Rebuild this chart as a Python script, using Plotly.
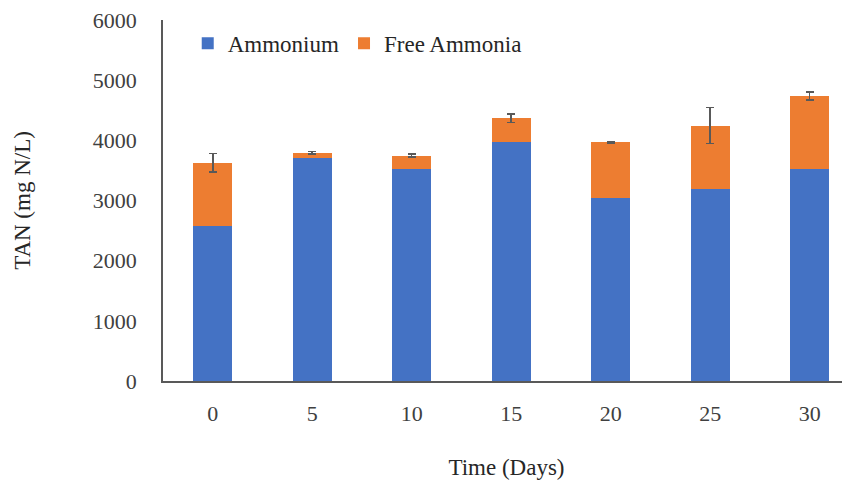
import plotly.graph_objects as go

days = ["0", "5", "10", "15", "20", "25", "30"]
ammonium = [2580, 3700, 3520, 3970, 3035, 3185, 3520]
free_ammonia = [1050, 95, 225, 395, 930, 1060, 1215]
total_error = [155, 20, 25, 70, 12, 300, 65]
y_ticks = [0, 1000, 2000, 3000, 4000, 5000, 6000]

FONT = "Liberation Serif"

fig = go.Figure()
fig.add_trace(go.Bar(x=days, y=ammonium, name="Ammonium", marker_color="#4472C4",
                     marker_line_width=0, width=0.39))
fig.add_trace(go.Bar(x=days, y=free_ammonia, name="Free Ammonia", marker_color="#ED7D31",
                     marker_line_width=0, width=0.39,
                     error_y=dict(type="data", array=total_error, visible=True,
                                  color="#595959", thickness=1.5, width=4)))

fig.update_layout(
    width=850, height=485,
    barmode="stack",
    plot_bgcolor="white", paper_bgcolor="white",
    margin=dict(l=155, r=8, t=12, b=112, autoexpand=False),
    font=dict(family=FONT, size=22, color="#404040"),
    showlegend=True,
    legend=dict(orientation="h", x=0.036, y=0.995, xanchor="left", yanchor="top",
                font=dict(family=FONT, size=23, color="#262626"),
                bgcolor="rgba(0,0,0,0)", itemwidth=30, traceorder="normal"),
    xaxis=dict(range=[-0.5, 6.405], showline=True, linecolor="#595959", linewidth=1.5,
               ticks="", showgrid=False, ticklabelstandoff=12, automargin=False,
               tickfont=dict(family=FONT, size=22, color="#404040"),
               title=dict(text="Time (Days)", standoff=34,
                          font=dict(family=FONT, size=23, color="#262626"))),
    yaxis=dict(range=[0, 6000], tickvals=y_ticks, showline=True, linecolor="#595959",
               linewidth=1.5, ticks="", showgrid=False, ticklabelstandoff=20, automargin=False,
               ticklabeloverflow="allow",
               tickfont=dict(family=FONT, size=22, color="#404040"),
               title=dict(text="TAN (mg N/L)", standoff=56,
                          font=dict(family=FONT, size=23, color="#262626"))),
)

fig.write_html("out.html")
